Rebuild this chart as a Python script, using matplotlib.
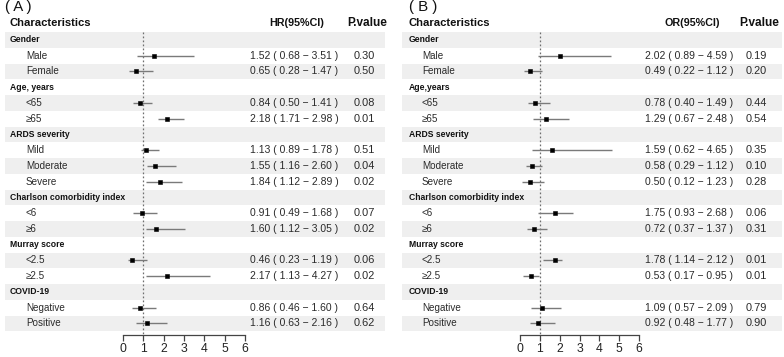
import matplotlib
matplotlib.use("Agg")
import matplotlib.pyplot as plt
from matplotlib import font_manager

plt.rcParams['font.family'] = ['Liberation Sans', 'DejaVu Sans']

# ---------------- data ----------------
groups_A = ["Gender", "Age, years", "ARDS severity", "Charlson comorbidity index", "Murray score", "COVID-19"]
groups_B = ["Gender", "Age,years", "ARDS severity", "Charlson comorbidity index", "Murray score", "COVID-19"]
subgroups = [["Male", "Female"], ["<65", "≥65"], ["Mild", "Moderate", "Severe"],
             ["<6", "≥6"], ["<2.5", "≥2.5"], ["Negative", "Positive"]]

hr_est = [1.52, 0.65, 0.84, 2.18, 1.13, 1.55, 1.84, 0.91, 1.60, 0.46, 2.17, 0.86, 1.16]
hr_lo = [0.68, 0.28, 0.50, 1.71, 0.89, 1.16, 1.12, 0.49, 1.12, 0.23, 1.13, 0.46, 0.63]
hr_hi = [3.51, 1.47, 1.41, 2.98, 1.78, 2.60, 2.89, 1.68, 3.05, 1.19, 4.27, 1.60, 2.16]
hr_p = ["0.30", "0.50", "0.08", "0.01", "0.51", "0.04", "0.02", "0.07", "0.02", "0.06", "0.02", "0.64", "0.62"]

or_est = [2.02, 0.49, 0.78, 1.29, 1.59, 0.58, 0.50, 1.75, 0.72, 1.78, 0.53, 1.09, 0.92]
or_lo = [0.89, 0.22, 0.40, 0.67, 0.62, 0.29, 0.12, 0.93, 0.37, 1.14, 0.17, 0.57, 0.48]
or_hi = [4.59, 1.12, 1.49, 2.48, 4.65, 1.12, 1.23, 2.68, 1.37, 2.12, 0.95, 2.09, 1.77]
or_p = ["0.19", "0.20", "0.44", "0.54", "0.35", "0.10", "0.28", "0.06", "0.31", "0.01", "0.01", "0.79", "0.90"]

x_ticks = [0, 1, 2, 3, 4, 5, 6]

# ---------------- layout ----------------
W, H = 784, 357
fig = plt.figure(figsize=(W / 100, H / 100), dpi=100)
renderer = fig.canvas.get_renderer()

installed = {f.name for f in font_manager.fontManager.ttflist}
GROUP_FAMILY = (['Liberation Sans Narrow', 'Liberation Sans', 'DejaVu Sans']
                if 'Liberation Sans Narrow' in installed else ['Liberation Sans', 'DejaVu Sans'])

ROW_TOP = 32
ROW_H = 15.75
N_ROWS = 19
SHADE = "#efefef"
TXT = "#2a2a2a"


def fx(x):
    return x / W


def fy(y):
    return 1 - y / H


def row_y(i):
    return ROW_TOP + ROW_H * (i + 0.5)


def fit(s, target_px, weight="normal", family=None, base=10.0):
    kw = {} if family is None else {"family": family}
    t = fig.text(0, 0, s, fontsize=base, fontweight=weight, **kw)
    w = t.get_window_extent(renderer).width
    t.remove()
    return base * target_px / w


FS_GROUP = fit("Charlson comorbidity index", 114, "bold", GROUP_FAMILY)
FS_SUB = fit("Moderate", 42)
FS_EST = fit("1.52 ( 0.68 − 3.51 )", 88)
FS_P = fit("0.30", 21.5)
FS_CHAR = fit("Characteristics", 81, "bold")
FS_HEST = fit("HR(95%CI)", 55, "bold")
FS_HP = fit("P.value", 40, "bold")
FS_TAG = fit("( A )", 27)


def draw_panel(tag, est_head, groups, est, lo, hi, pv, cfg):
    s0, s1 = cfg["shade"]
    zero, six = cfg["zero"], cfg["six"]
    ppu = (six - zero) / 6.0
    ax = fig.add_axes([fx(s0), fy(ROW_TOP + N_ROWS * ROW_H), (s1 - s0) / W, N_ROWS * ROW_H / H])
    ax.set_facecolor("none")
    ax.set_xlim((s0 - zero) / ppu, (s1 - zero) / ppu)
    ax.set_ylim(N_ROWS - 0.5, -0.5)
    for i in range(0, N_ROWS, 2):
        ax.axhspan(i - 0.5, i + 0.5, color=SHADE, lw=0, zorder=0)

    ax.vlines(1, -0.5, N_ROWS - 0.5 + 4 / ROW_H, colors="#6f6f6f", linestyles=(0, (1.4, 1.8)),
              lw=0.9, clip_on=False, zorder=1)

    for sp in ["top", "left", "right"]:
        ax.spines[sp].set_visible(False)
    ax.spines["bottom"].set_bounds(x_ticks[0], x_ticks[-1])
    ax.spines["bottom"].set_position(("outward", 3.0))
    ax.spines["bottom"].set_color("#444444")
    ax.spines["bottom"].set_linewidth(0.9)
    ax.set_xticks(x_ticks)
    ax.set_xticklabels([str(t) for t in x_ticks])
    ax.tick_params(axis="x", direction="out", length=4.5, width=0.9, color="#444444",
                   labelsize=8.8, pad=1.0, labelcolor="#222222")
    ax.set_yticks([])

    # title and headers
    fig.text(fx(cfg["tag_x"]), fy(7.5), tag, fontsize=FS_TAG, ha="left", va="center", color="#111111")
    fig.text(fx(cfg["label_x"]), fy(23), "Characteristics", fontsize=FS_CHAR, fontweight="bold",
             ha="left", va="center", color="#111111")
    fig.text(fx(cfg["head_est_x"]), fy(23), est_head, fontsize=FS_HEST, fontweight="bold",
             ha="center", va="center", color="#111111")
    fig.text(fx(cfg["head_p_x"]), fy(23), "P.value", fontsize=FS_HP, fontweight="bold",
             ha="left", va="center", color="#111111")

    i = 0
    k = 0
    for g, subs in zip(groups, subgroups):
        fig.text(fx(cfg["label_x"]), fy(row_y(i)), g, fontsize=FS_GROUP, fontweight="bold",
                 family=GROUP_FAMILY, ha="left", va="center", color="#111111")
        i += 1
        for s in subs:
            y = row_y(i)
            fig.text(fx(cfg["sub_x"]), fy(y), s, fontsize=FS_SUB, ha="left", va="center", color=TXT)
            fig.text(fx(cfg["est_x"]), fy(y),
                     f"{est[k]:.2f} ( {lo[k]:.2f} − {hi[k]:.2f} )",
                     fontsize=FS_EST, ha="left", va="center", color=TXT)
            fig.text(fx(cfg["p_x"]), fy(y), pv[k], fontsize=FS_P, ha="left", va="center", color=TXT)
            ax.plot([lo[k], hi[k]], [i, i], color="#7a7a7a", lw=1.0, zorder=2, solid_capstyle="butt")
            ax.plot([est[k]], [i], marker="s", color="black", markersize=3.2, markeredgewidth=0.4,
                    zorder=3, lw=0)
            i += 1
            k += 1


cfgA = dict(shade=(5, 385), zero=123, six=245, label_x=10, sub_x=26, est_x=250, p_x=354,
            head_est_x=297, head_p_x=347, tag_x=5)
cfgB = dict(shade=(402, 782), zero=520, six=639, label_x=409, sub_x=422, est_x=645, p_x=746,
            head_est_x=692, head_p_x=739, tag_x=409)

draw_panel("( A )", "HR(95%CI)", groups_A, hr_est, hr_lo, hr_hi, hr_p, cfgA)
draw_panel("( B )", "OR(95%CI)", groups_B, or_est, or_lo, or_hi, or_p, cfgB)

fig.savefig("out.png", dpi=100)
